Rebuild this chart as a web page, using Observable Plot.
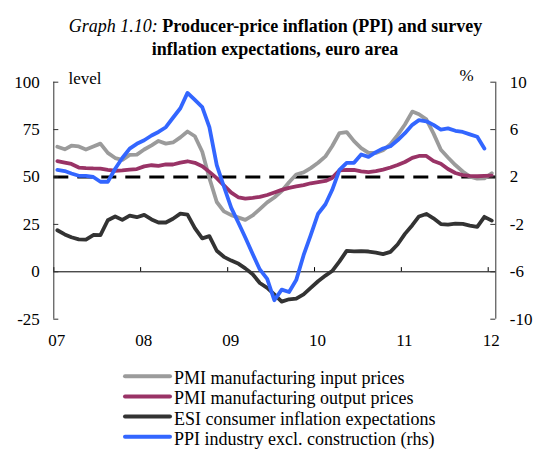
<!DOCTYPE html>
<html><head><meta charset="utf-8">
<script src="https://cdn.jsdelivr.net/npm/d3@7"></script>
<script src="https://cdn.jsdelivr.net/npm/@observablehq/plot@0.6"></script>
<style>
body{margin:0;background:#fff;}
#wrap{position:relative;width:536px;height:449px;overflow:hidden;font-family:"Liberation Serif","Times New Roman",serif;}
#wrap svg{position:absolute;left:0;top:0;}
</style></head><body><div id="wrap"></div>
<script>
// ---- data (monthly, Jan 2007 .. Jan 2012) ----
const yearLabels = ["07","08","09","10","11","12"];
const leftTicks = [-25, 0, 25, 50, 75, 100];
const rightTickLabels = ["-10", "-6", "-2", "2", "6", "10"];
const seriesNames = [
  "PMI manufacturing input prices",
  "PMI manufacturing output prices",
  "ESI consumer inflation expectations",
  "PPI industry excl. construction (rhs)"
];
const seriesColors = ["#9b9b9b", "#993366", "#333333", "#3366ff"];

const pmiInput = [66,64.6,66.5,66.1,64.5,66.1,67.6,62.7,60,59,61.7,61.8,
  64.5,66.7,69,67.6,68.2,70.9,74,71.5,63.3,49.4,36.8,31.9,
  29.9,28.6,27.4,29.7,33.1,36.6,39.2,42.6,47.2,51.3,52.4,54.7,
  57.5,60.9,66.2,73.2,73.7,68.9,65.2,62.7,62.7,64.1,67.3,72.1,
  77.7,84.5,83.1,80.4,73,64.4,60.3,56.3,52.9,50.2,49.1,49.3,
  52];
const pmiOutput = [58.4,57.6,56.9,55,54.7,54.5,54.4,53.8,53.3,53.5,53.9,54.2,
  55.6,56.2,55.9,56.6,56.6,57.6,58.3,57.5,55.7,52.7,49.4,45.6,
  41.8,39.2,38.6,39,39.5,40.5,41.8,43.2,44.3,45,45.7,46.7,
  47.3,47.9,49.5,53.5,53.8,53.7,53,52.6,53.1,53.9,55,56.3,
  57.9,60.1,61.1,61.1,58.4,57,54.2,52.1,51,50.6,50.4,50.6,
  50.7];
const esiExpect = [21.9,19.7,18.2,17.1,17,19.4,19.3,27.2,29.2,27.4,29.6,28.8,
  30,27.6,26,26,28,30.7,30.2,23,17.6,18.8,11.1,7.9,
  5.9,4.2,1.8,-1.3,-5.9,-8.5,-11.9,-15.7,-14.5,-14.1,-11.9,-8.5,
  -5,-2,0.4,5.5,11,10.8,10.9,10.7,10.1,9.3,10.5,14.4,
  20,24.6,29.2,30.5,28.2,25.2,24.9,25.4,25.3,24.4,23.7,29,
  27];
// PPI, % y-o-y (right-hand scale), Jan 2007 .. Dec 2011
const ppiRhs = [2.6,2.5,2.3,2.1,2.1,2.0,1.6,1.6,2.7,3.6,4.4,4.8,
  5.1,5.5,5.8,6.2,7.0,7.8,9.1,8.5,7.9,6.2,3.0,1.2,
  -0.6,-1.9,-3.1,-4.5,-5.8,-6.6,-8.4,-7.5,-7.7,-6.7,-4.6,-2.9,
  -1.1,-0.3,0.9,2.6,3.2,3.2,3.9,3.7,4.1,4.4,4.6,5.1,
  5.7,6.4,6.8,6.7,6.4,6.0,6.1,5.9,5.8,5.6,5.4,4.4];

// ---- scales helpers ----
const x0 = new Date(Date.UTC(2007, 0, 1));
const x1 = new Date(Date.UTC(2012, 1, 2));
const monthStarts = d3.utcMonth.range(x0, new Date(Date.UTC(2012, 1, 1)));
const midMonth = i => d3.utcDay.offset(monthStarts[i], 15);
const yearDates = d3.utcYear.range(x0, new Date(Date.UTC(2012, 1, 1)));
// rhs (-10..10) mapped onto lhs (-25..100)
const rhsToLhs = r => 50 + (r - 2) * 6.25;

const toRows = (arr, conv = v => v) => arr.map((v, i) => ({date: midMonth(i), value: conv(v)}));

const W = 536, H = 449;
const mL = 53.3, mR = W - 495.3, mT = 81.7, mB = H - 318.7;
const plotW = W - mL - mR;
const font = '"Liberation Serif","Times New Roman",serif';
const lw = 3.8;

const chart = Plot.plot({
  width: W, height: H,
  marginLeft: mL, marginRight: mR, marginTop: mT, marginBottom: mB,
  x: {type: "utc", domain: [x0, x1], axis: null},
  y: {domain: [-25, 100], axis: null},
  style: {fontFamily: font, fontSize: "17px", background: "transparent", color: "#000", overflow: "visible"},
  marks: [
    Plot.ruleY([0], {stroke: "#000", strokeWidth: 1}),
    Plot.ruleX(yearDates, {y1: 0, y2: 2.2, stroke: "#000", strokeWidth: 1}),
    Plot.ruleY([50], {stroke: "#000", strokeWidth: 3, strokeDasharray: "15,9"}),
    Plot.line(toRows(pmiInput), {x: "date", y: "value", stroke: seriesColors[0], strokeWidth: lw, strokeLinejoin: "round"}),
    Plot.line(toRows(pmiOutput), {x: "date", y: "value", stroke: seriesColors[1], strokeWidth: lw, strokeLinejoin: "round"}),
    Plot.line(toRows(esiExpect), {x: "date", y: "value", stroke: seriesColors[2], strokeWidth: lw, strokeLinejoin: "round"}),
    Plot.line(toRows(ppiRhs, rhsToLhs), {x: "date", y: "value", stroke: seriesColors[3], strokeWidth: lw, strokeLinejoin: "round"}),
    // axes
    Plot.ruleX([x0], {y1: -25, y2: 100, stroke: "#333", strokeWidth: 1}),
    Plot.ruleX([x1], {y1: -25, y2: 100, stroke: "#333", strokeWidth: 1}),
    Plot.ruleY(leftTicks, {stroke: "#333", strokeWidth: 1, insetRight: plotW - 5}),
    Plot.ruleY(leftTicks, {stroke: "#333", strokeWidth: 1, insetLeft: plotW - 5}),
    Plot.text(leftTicks, {y: d => d, text: d => String(d), frameAnchor: "left", textAnchor: "end", dx: -14, fill: "#000"}),
    Plot.text(leftTicks, {y: d => d, text: (d, i) => rightTickLabels[i], frameAnchor: "right", textAnchor: "start", dx: 14, fill: "#000"}),
    Plot.text(yearDates, {x: d => d, text: (d, i) => yearLabels[i], frameAnchor: "bottom", dy: 27, dx: 3, fill: "#000"}),
    Plot.text(["level"], {frameAnchor: "top-left", textAnchor: "start", lineAnchor: "bottom", dx: 14.7, dy: 1.6, fill: "#000"}),
    Plot.text(["%"], {frameAnchor: "top-right", textAnchor: "middle", lineAnchor: "bottom", dx: -29.3, dy: -1, fill: "#000"})
  ]
});
const wrap = document.getElementById("wrap");
wrap.appendChild(chart);

// ---- title and legend overlay ----
const ov = d3.select(wrap).append("svg").attr("width", W).attr("height", H)
  .style("font-family", font).style("pointer-events", "none");
const t1 = ov.append("text").attr("x", 275.5).attr("y", 32.3).attr("text-anchor", "middle").attr("font-size", 18);
t1.append("tspan").attr("font-style", "italic").text("Graph 1.10: ");
t1.append("tspan").attr("font-weight", "bold").text("Producer-price inflation (PPI) and survey");
ov.append("text").attr("x", 275).attr("y", 55).attr("text-anchor", "middle").attr("font-size", 18)
  .attr("font-weight", "bold").text("inflation expectations, euro area");

const lg = ov.selectAll("g.lg").data(seriesNames).join("g").attr("class", "lg")
  .attr("transform", (d, i) => `translate(0,${384.2 + i * 20.2})`);
lg.append("line").attr("x1", 125).attr("x2", 170).attr("y1", -8).attr("y2", -8)
  .attr("stroke", (d, i) => seriesColors[i]).attr("stroke-width", 4).attr("stroke-linecap", "round");
lg.append("text").attr("x", 174).attr("y", 0).attr("font-size", 18).text(d => d);
</script>
</body></html>
